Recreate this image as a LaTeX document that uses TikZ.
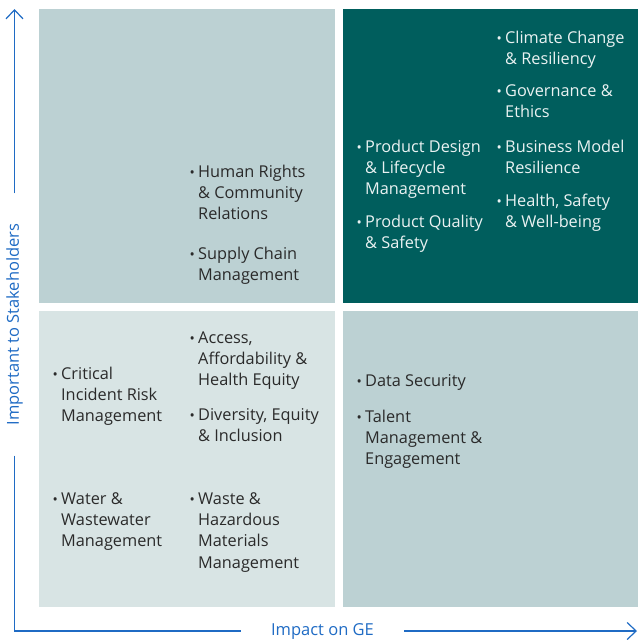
\documentclass[tikz,border=0pt]{standalone}
\usepackage{fontspec}
\setmainfont{Open Sans}
\usetikzlibrary{arrows.meta}
\definecolor{quadLight}{HTML}{D8E4E4}
\definecolor{quadMid}{HTML}{BCD1D3}
\definecolor{quadDark}{HTML}{005E5D}
\definecolor{axisBlue}{HTML}{1F6BC4}
\definecolor{itemGray}{HTML}{2A2A2A}
\definecolor{itemWhite}{HTML}{EAF2F2}
\tikzset{quad/.style={inner sep=0pt,anchor=north west,minimum width=296pt},
  item/.style={anchor=north west,align=left,inner sep=0pt,text=itemGray,
    font=\fontsize{16.3}{21.3}\selectfont},
  itemdark/.style={item,text=itemWhite},
  axis/.style={draw=axisBlue,line width=1.2pt},
  axislabel/.style={text=axisBlue,inner xsep=30pt,inner ysep=0pt,
    font=\fontsize{16.5}{18}\selectfont},
  arrow/.style={-{Straight Barb[length=9pt,width=17pt]}}}
% bullet hanging left of the text, strut fixes the top of the first line
\newcommand{\itm}{\strut\llap{\raisebox{-0.6pt}{\fontsize{14}{14}\selectfont\textbullet}\hspace{3.2pt}}}

\begin{document}
\begin{tikzpicture}[x=1pt,y=-1pt]
\useasboundingbox (0,0) rectangle (638,640);
% quadrants
\node[quad,fill=quadMid,minimum height=294pt] (hiLow) at (39,9) {};
\node[quad,fill=quadDark,minimum width=295pt,minimum height=294pt] (hiHigh) at (343,9) {};
\node[quad,fill=quadLight,minimum height=296pt] (loLow) at (39,311) {};
\node[quad,fill=quadMid,minimum width=295pt,minimum height=296pt] (loHigh) at (343,311) {};
% axes
\coordinate (ytop) at (14.5,9);
\coordinate (origin) at (14.5,631);
\coordinate (xend) at (637,631);
\node[axislabel,rotate=90] (ylab) at (14.5,324.5) {Important to Stakeholders};
\node[axislabel] (xlab) at (322.5,631) {Impact on GE};
\draw[axis] (ylab.west) -- (origin) -- (xlab.west);
\draw[axis,arrow] (ylab.east) -- (ytop);
\draw[axis,arrow] (xlab.east) -- (xend);
% top left
\node[item] (rights) at (198,162) {\itm Human Rights\\\& Community\\Relations};
\node[item] (supply) at (198,244) {\itm Supply Chain\\Management};
% top right
\node[itemdark] (design) at (365,137) {\itm Product Design\\\& Lifecycle\\Management};
\node[itemdark] (quality) at (365,212) {\itm Product Quality\\\& Safety};
\node[itemdark] (climate) at (505,28) {\itm Climate Change\\\& Resiliency};
\node[itemdark] (govern) at (505,81) {\itm Governance \&\\Ethics};
\node[itemdark] (business) at (505,137) {\itm Business Model\\Resilience};
\node[itemdark] (health) at (505,191) {\itm Health, Safety\\\& Well-being};
% bottom left
\node[item] (incident) at (61,364) {\itm Critical\\Incident Risk\\Management};
\node[item] (water) at (61,489) {\itm Water \&\\Wastewater\\Management};
\node[item] (access) at (198,328) {\itm Access,\\Affordability \&\\Health Equity};
\node[item] (diversity) at (198,405) {\itm Diversity, Equity\\\& Inclusion};
\node[item] (waste) at (198,489) {\itm Waste \&\\Hazardous\\Materials\\Management};
% bottom right
\node[item] (data) at (365,371) {\itm Data Security};
\node[item] (talent) at (365,407) {\itm Talent\\Management \&\\Engagement};
\end{tikzpicture}
\end{document}
